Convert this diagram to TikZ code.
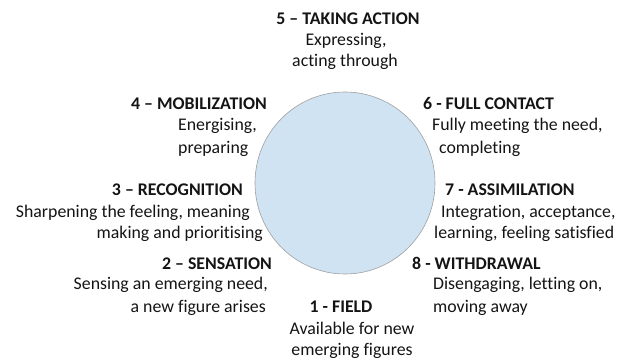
\documentclass[tikz,border=0pt]{standalone}
\usepackage{fontspec}
\setmainfont{Carlito}[Ligatures={NoCommon}]
\usetikzlibrary{shapes.geometric}
\definecolor{circfill}{RGB}{207,227,242}
\definecolor{circline}{RGB}{160,160,160}
\definecolor{txt}{RGB}{20,20,20}
\begin{document}
\begin{tikzpicture}[x=1pt,y=-1pt,
  ttl/.style={font=\fontsize{17.8}{21}\selectfont\bfseries, text=txt, inner sep=0pt, anchor=mid west},
  dsc/.style={font=\fontsize{17.8}{21}\selectfont, text=txt, inner sep=0pt, anchor=mid west},
  ttlc/.style={ttl, anchor=mid},
  dscc/.style={dsc, anchor=mid}]
\useasboundingbox (0,0) rectangle (624,363);
\node[draw=circline, line width=0.6pt, fill=circfill, ellipse, minimum width=180pt, minimum height=182pt, inner sep=0pt] (c) at (345,183) {};
% 5
\node[ttlc] (t5) at (348,22) {5 – TAKING ACTION};
\node[dscc] (d5a) at (346,43) {Expressing,};
\node[dscc] (d5b) at (345,64) {acting through};
% 4
\node[ttl, anchor=mid east] (t4) at (267,107) {4 – MOBILIZATION};
\node[dsc] (d4a) at (178,128) {Energising,};
\node[dsc] (d4b) at (178,151) {preparing};
% 3
\node[ttl, anchor=mid east] (t3) at (243,193) {3 – RECOGNITION};
\node[dsc, anchor=mid east] (d3a) at (250,215) {Sharpening the feeling, meaning};
\node[dsc, anchor=mid east] (d3b) at (263,236) {making and prioritising};
% 2
\node[ttl, anchor=mid east] (t2) at (272,267) {2 – SENSATION};
\node[dsc, anchor=mid east] (d2a) at (268,287) {Sensing an emerging need,};
\node[dsc, anchor=mid east] (d2b) at (266,310) {a new figure arises};
% 1
\node[ttlc] (t1) at (341,310) {1 - FIELD};
\node[dscc] (d1a) at (352,332) {Available for new};
\node[dscc] (d1b) at (352,353) {emerging figures};
% 6
\node[ttl] (t6) at (423,107) {6 - FULL CONTACT};
\node[dsc] (d6a) at (432,128) {Fully meeting the need,};
\node[dsc] (d6b) at (439,151) {completing};
% 7
\node[ttl] (t7) at (445,193) {7 - ASSIMILATION};
\node[dsc] (d7a) at (441,215) {Integration, acceptance,};
\node[dsc] (d7b) at (434,236) {learning, feeling satisfied};
% 8
\node[ttl] (t8) at (412,267) {8 - WITHDRAWAL};
\node[dsc] (d8a) at (433,287) {Disengaging, letting on,};
\node[dsc] (d8b) at (433,310) {moving away};
\end{tikzpicture}
\end{document}
